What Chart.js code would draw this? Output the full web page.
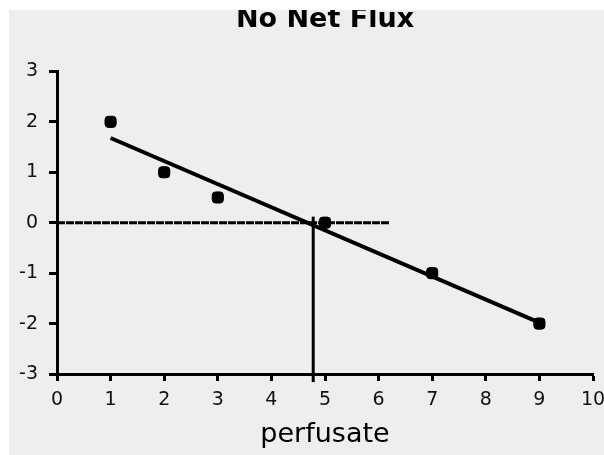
<!DOCTYPE html>
<html>
<head>
<meta charset="utf-8">
<script src="https://cdn.jsdelivr.net/npm/chart.js@4"></script>
<style>
  html, body { margin: 0; padding: 0; background: #ffffff; }
  #wrap { position: relative; width: 604px; height: 455px; }
  #bg { position: absolute; left: 9px; top: 10px; right: 0; bottom: 0; background: #eeeeee; }
  #chart { position: absolute; left: 0; top: 0; }
</style>
</head>
<body>
<div id="wrap">
  <div id="bg"></div>
  <canvas id="chart" width="604" height="455"></canvas>
</div>
<script>
// measured points
const perfusate = [1, 2, 3, 5, 7, 9];
const netFlux = [2, 1, 0.5, 0, -1, -2];

// fitted line at its two ends
const fitX = [1, 9];
const fitY = [1.68, -1.98];

// zero-flux guide lines
const zeroLineX = [0, 6.2];
const zeroLineY = [0, 0];
const crossX = [4.78, 4.78];
const crossY = [-3.16, 0.12];

const xTicks = [0, 1, 2, 3, 4, 5, 6, 7, 8, 9, 10];
const yTicks = [-3, -2, -1, 0, 1, 2, 3];

const pts = (xs, ys) => xs.map((x, i) => ({ x, y: ys[i] }));

// top white strip crops the title like the reference
const cropTop = {
  id: 'cropTop',
  afterDraw(chart) {
    const { ctx } = chart;
    ctx.save();
    ctx.fillStyle = '#ffffff';
    ctx.fillRect(0, 0, chart.width, 10);
    ctx.restore();
  },
};

const tickFont = { family: 'DejaVu Sans', size: 19 };

new Chart(document.getElementById('chart'), {
  type: 'scatter',
  data: {
    datasets: [
      {
        label: 'data',
        data: pts(perfusate, netFlux),
        pointStyle: 'rectRounded',
        pointRadius: 6.5,
        backgroundColor: '#000',
        borderColor: '#000',
        order: 0,
      },
      {
        label: 'fit',
        data: pts(fitX, fitY),
        showLine: true,
        borderColor: '#000',
        borderWidth: 4,
        pointRadius: 0,
        order: 1,
      },
      {
        label: 'zero',
        data: pts(zeroLineX, zeroLineY),
        showLine: true,
        borderColor: '#000',
        borderWidth: 3,
        borderDash: [8, 1],
        pointRadius: 0,
        order: 2,
      },
      {
        label: 'cross',
        data: pts(crossX, crossY),
        showLine: true,
        borderColor: '#000',
        borderWidth: 3,
        pointRadius: 0,
        clip: false,
        order: 2,
      },
    ],
  },
  options: {
    responsive: false,
    animation: false,
    layout: { padding: { left: 0, right: 11, top: 0, bottom: 0 } },
    plugins: {
      legend: { display: false },
      tooltip: { enabled: false },
      title: {
        display: true,
        fullSize: false, // centre over the plot area, not the whole canvas
        text: 'No Net Flux',
        color: '#000',
        font: { family: 'DejaVu Sans', size: 27, weight: 'bold' },
        padding: { top: 4, bottom: 35 },
      },
    },
    scales: {
      x: {
        type: 'linear',
        min: 0,
        max: 10,
        afterBuildTicks: (s) => { s.ticks = xTicks.map((v) => ({ value: v })); },
        afterFit: (s) => { s.height = 81; s.paddingLeft = 0; s.paddingRight = 0; },
        border: { color: '#000', width: 3 },
        grid: { drawOnChartArea: false, drawTicks: true, tickLength: 7, tickWidth: 3, tickColor: '#000' },
        ticks: { color: '#111', font: tickFont, padding: 8 },
        title: {
          display: true,
          text: 'perfusate',
          color: '#000',
          font: { family: 'DejaVu Sans', size: 27 },
          padding: { top: 0, bottom: 4 },
        },
      },
      y: {
        type: 'linear',
        min: -3,
        max: 3,
        afterBuildTicks: (s) => { s.ticks = yTicks.map((v) => ({ value: v })); },
        afterFit: (s) => { s.width = 57; s.paddingTop = 0; s.paddingBottom = 0; },
        border: { color: '#000', width: 3 },
        grid: { drawOnChartArea: false, drawTicks: true, tickLength: 8, tickWidth: 3, tickColor: '#000' },
        ticks: { color: '#111', font: tickFont, padding: 11 },
      },
    },
  },
  plugins: [cropTop],
});
</script>
</body>
</html>
